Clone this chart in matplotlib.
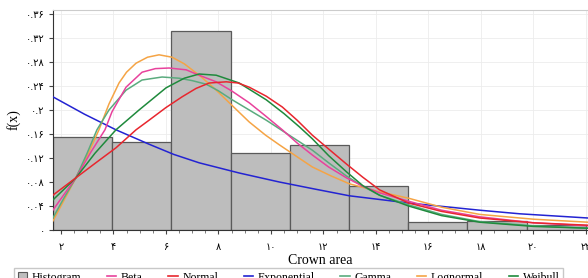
import numpy as np
import matplotlib.pyplot as plt
from matplotlib.patches import Patch
from matplotlib.lines import Line2D

# histogram bins (left edges) and heights
bin_left = [1.7, 3.955, 6.21, 8.465, 10.72, 12.975, 15.23, 17.485, 19.74]
bin_width = 2.255
bin_height = [0.155, 0.147, 0.332, 0.128, 0.142, 0.073, 0.013, 0.015, 0.008]

# fitted curves, values
exp_x = [1.695, 2.9, 4.099, 5.359, 6.3, 7.267, 8.794, 10.321, 11.7, 12.992, 15.244, 17.954, 19.480, 22.076]
exp_y = [0.222, 0.193, 0.167, 0.143, 0.126, 0.112, 0.095, 0.080, 0.068, 0.057, 0.045, 0.033, 0.027, 0.020]

norm_x = [1.695, 2.573, 3.3, 4.099, 4.863, 5.359, 6.0, 6.618, 7.15, 7.649, 8.298, 8.75, 9.176, 9.824, 10.435, 11.0,
          11.580, 12.2, 12.878, 13.5, 14.137, 15.244, 16.5, 17.954, 20.0, 22.076]
norm_y = [0.058, 0.087, 0.111, 0.137, 0.167, 0.183, 0.204, 0.222, 0.236, 0.245, 0.247, 0.245, 0.238, 0.223, 0.205, 0.183,
          0.158, 0.135, 0.110, 0.088, 0.067, 0.045, 0.031, 0.020, 0.012, 0.008]

weib_x = [1.695, 2.573, 3.3, 4.099, 4.977, 6.008, 6.7, 7.267, 7.916, 8.794, 9.824, 10.5, 11.084, 11.580, 12.2, 12.878,
          13.5, 14.137, 15.244, 16.5, 17.954, 20.0, 22.076]
weib_y = [0.050, 0.087, 0.128, 0.167, 0.200, 0.237, 0.253, 0.260, 0.258, 0.245, 0.217, 0.194, 0.172, 0.152, 0.124, 0.097,
          0.074, 0.058, 0.040, 0.024, 0.013, 0.006, 0.003]

gam_x = [1.695, 2.1, 2.573, 3.0, 3.374, 3.832, 4.481, 5.092, 5.855, 6.504, 7.0, 7.534, 8.0, 8.527, 9.176, 9.824, 10.7,
         11.580, 12.2, 12.878, 13.5, 14.137, 15.244, 16.5, 17.954, 20.0, 22.076]
gam_y = [0.020, 0.052, 0.087, 0.128, 0.167, 0.200, 0.233, 0.250, 0.255, 0.253, 0.249, 0.243, 0.232, 0.217, 0.200, 0.183, 0.158,
         0.133, 0.112, 0.090, 0.073, 0.058, 0.042, 0.026, 0.014, 0.007, 0.003]

beta_x = [1.695, 2.1, 2.573, 3.145, 3.679, 3.947, 4.481, 5.092, 5.6, 6.122, 6.771, 7.267, 7.916, 8.5, 9.176, 9.8, 10.435,
          11.0, 11.580, 12.2, 12.878, 13.5, 14.137, 15.244, 16.5, 17.954, 20.0, 22.076]
beta_y = [0.033, 0.058, 0.087, 0.130, 0.167, 0.197, 0.238, 0.263, 0.269, 0.270, 0.267, 0.258, 0.247, 0.232, 0.212, 0.190, 0.167,
          0.145, 0.125, 0.105, 0.087, 0.073, 0.062, 0.048, 0.033, 0.022, 0.012, 0.007]

logn_x = [1.695, 2.1, 2.573, 3.069, 3.450, 3.832, 4.214, 4.5, 4.863, 5.3, 5.740, 6.237, 6.7, 7.267, 7.8, 8.298, 9.176,
          9.8, 10.321, 11.0, 11.580, 12.3, 12.992, 14.1, 15.244, 16.5, 17.954, 20.0, 22.076]
logn_y = [0.015, 0.048, 0.087, 0.130, 0.167, 0.210, 0.245, 0.263, 0.278, 0.288, 0.292, 0.288, 0.277, 0.258, 0.238, 0.217, 0.180,
          0.158, 0.142, 0.122, 0.105, 0.090, 0.077, 0.064, 0.053, 0.038, 0.026, 0.018, 0.013]

x_ticks = [2, 4, 6, 8, 10, 12, 14, 16, 18, 20, 22]
x_labels = ['۲', '۴', '۶', '۸', '۱۰', '۱۲', '۱۴', '۱۶', '۱۸', '۲۰', '۲۲']
y_ticks = [0, 0.04, 0.08, 0.12, 0.16, 0.2, 0.24, 0.28, 0.32, 0.36]
y_labels = ['۰', '۰.۰۴', '۰.۰۸', '۰.۱۲', '۰.۱۶', '۰.۲', '۰.۲۴', '۰.۲۸', '۰.۳۲', '۰.۳۶']

series_names = ['Beta', 'Normal', 'Exponential', 'Gamma', 'Lognormal', 'Weibull']
series_colors = ['#e8429c', '#e8262e', '#2323d2', '#5aab7e', '#f5a445', '#1f8a3c']

fig = plt.figure(figsize=(5.88, 2.78), dpi=100)
ax = fig.add_axes([53/588, 1-230/278, 1-53/588, 220/278])

ax.bar(bin_left, bin_height, width=bin_width, align='edge',
       color='#bdbdbd', edgecolor='#5a5a5a', linewidth=0.9, zorder=2)

ax.plot(exp_x, exp_y, color=series_colors[2], lw=1.1, zorder=3)
ax.plot(logn_x, logn_y, color=series_colors[4], lw=1.1, zorder=3)
ax.plot(gam_x, gam_y, color=series_colors[3], lw=1.1, zorder=3)
ax.plot(beta_x, beta_y, color=series_colors[0], lw=1.1, zorder=3)
ax.plot(weib_x, weib_y, color=series_colors[5], lw=1.1, zorder=3)
ax.plot(norm_x, norm_y, color=series_colors[1], lw=1.1, zorder=3)

ax.set_xlim(1.7, 22.08)
ax.set_ylim(0, 0.3667)

ax.set_xticks(x_ticks)
ax.set_xticklabels(x_labels, family=['DejaVu Sans'], fontsize=7)
ax.set_xticks(np.arange(2, 22.1, 0.5), minor=True)
ax.set_yticks(y_ticks)
ax.set_yticklabels(y_labels, family=['DejaVu Sans'], fontsize=7)
ax.tick_params(axis='x', which='major', length=3, width=0.8, color='#444444', pad=6)
ax.tick_params(axis='y', which='major', length=3, width=0.8, color='#444444', pad=3)
ax.tick_params(axis='x', which='minor', length=2, width=0.6, color='#666666')

ax.grid(True, color='#ececec', lw=0.6, zorder=0)
ax.set_axisbelow(True)
for side in ['top', 'right']:
    ax.spines[side].set_color('#cccccc')
    ax.spines[side].set_linewidth(0.8)
ax.spines['left'].set_color('#333333')
ax.spines['bottom'].set_color('#333333')

ax.set_xlabel('Crown area', family='Liberation Serif', fontsize=10, labelpad=1)
ax.set_ylabel('f(x)', family='Liberation Serif', fontsize=10, labelpad=4)

handles = [Patch(facecolor='#bdbdbd', edgecolor='#5a5a5a', lw=0.8)]
handles += [Line2D([], [], color=c, lw=1.2) for c in series_colors]
fig.legend(handles, ['Histogram'] + series_names, ncol=7, loc='upper left',
           bbox_to_anchor=(14/588, 1-268/278), frameon=True, fancybox=False,
           edgecolor='#bbbbbb', prop={'family': 'Liberation Serif', 'size': 8.5},
           handlelength=0.8, handleheight=0.8, handletextpad=0.4,
           columnspacing=2.15, borderaxespad=0, borderpad=0.3)

plt.savefig('out.png', dpi=100)
